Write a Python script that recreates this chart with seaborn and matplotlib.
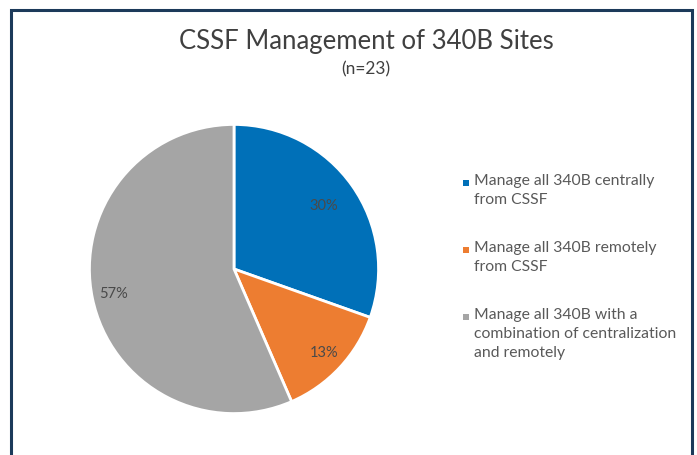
import matplotlib
matplotlib.use("Agg")
import matplotlib.pyplot as plt
import seaborn as sns
import numpy as np
from matplotlib.patches import Rectangle

categories = [
    "Manage all 340B centrally\nfrom CSSF",
    "Manage all 340B remotely\nfrom CSSF",
    "Manage all 340B with a\ncombination of centralization\nand remotely",
]
counts = [7, 3, 13]
pct_labels = ["30%", "13%", "57%"]
colors = sns.color_palette(["#0070B8", "#ED7D31", "#A5A5A5"])

sns.set_theme(style="white")
plt.rcParams["font.family"] = ["Lato", "DejaVu Sans"]

W, H = 697, 455
fig = plt.figure(figsize=(W / 100, H / 100), dpi=100)
fig.patch.set_facecolor("white")

# outer frame (bottom edge is cut off in the original)
fig.patches.append(Rectangle((11 / W, -0.05), 681 / W, 1 - 10 / H + 0.05,
                             transform=fig.transFigure, fill=False,
                             edgecolor="#1C3A5A", linewidth=2.2))

ax = fig.add_axes([88 / W, 1 - 415 / H, 292 / W, 292 / H])
wedges, texts = ax.pie(counts, colors=colors, startangle=90, counterclock=False,
                       wedgeprops=dict(edgecolor="white", linewidth=2))
ax.set_xlim(-1.01, 1.01)
ax.set_ylim(-1.01, 1.01)
ax.set_aspect("equal")

# percentage labels (Excel "best fit" style positions)
for w, lab, r in zip(wedges, pct_labels, [0.76, 0.85, 0.85]):
    ang = np.deg2rad((w.theta1 + w.theta2) / 2)
    ax.text(r * np.cos(ang), r * np.sin(ang), lab, ha="center", va="center",
            fontsize=10.5, color="#4a4a4a")

fig.text(366 / W, 1 - 42 / H, "CSSF Management of 340B Sites", ha="center",
         va="center", fontsize=18.5, color="#404040")
fig.text(366 / W, 1 - 69 / H, "(n=23)", ha="center", va="center",
         fontsize=12.5, color="#404040")

# legend: small square markers aligned with the first line of each label
for lab, c, y in zip(categories, colors, [183, 250, 317]):
    fig.patches.append(Rectangle((463 / W, 1 - (y + 3) / H), 6 / W, 6 / H,
                                 transform=fig.transFigure, facecolor=c,
                                 edgecolor="none"))
    fig.text(474 / W, 1 - (y - 9) / H, lab, ha="left", va="top", fontsize=11.3,
             color="#595959", linespacing=1.45)

fig.savefig("out.png", dpi=100)
